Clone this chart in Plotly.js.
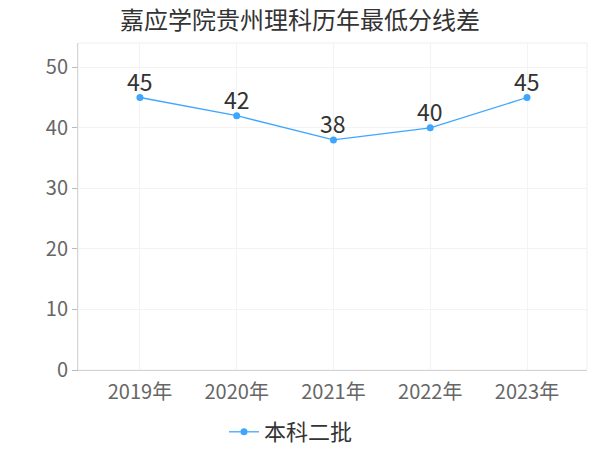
<!DOCTYPE html>
<html><head><meta charset="utf-8">
<script src="https://cdn.plot.ly/plotly-3.0.1.min.js"></script>
<style>body{margin:0;padding:0;}#chart{width:600px;height:450px;}</style>
</head><body><div id="chart"></div>
<script>
var categories = ["2019年","2020年","2021年","2022年","2023年"];
var values = [45, 42, 38, 40, 45];
var seriesName = "本科二批";
var yTicks = [0, 10, 20, 30, 40, 50];

var font = "'Noto Sans CJK SC', 'Noto Sans', sans-serif";
var trace = {
  x: categories, y: values, name: seriesName,
  type: "scatter", mode: "lines+markers",
  line: {color: "#3fa6ff", width: 1.3},
  marker: {color: "#3fa6ff", size: 7},
  cliponaxis: false
};
var labels = categories.map(function (c, i) {
  return {x: c, y: values[i], xref: "x", yref: "y", text: String(values[i]),
    showarrow: false, yanchor: "bottom", yshift: -2,
    font: {size: 23, color: "#333", family: font}};
});
var layout = {
  width: 600, height: 450,
  margin: {l: 78, r: 13, t: 43, b: 80, autoexpand: false},
  title: {text: "嘉应学院贵州理科历年最低分线差", font: {size: 24, color: "#333", family: font}, xref: "container", x: 0.5, xanchor: "center", yref: "container", y: 0.955, yanchor: "middle"},
  paper_bgcolor: "#fff", plot_bgcolor: "#fff",
  xaxis: {
    type: "category", range: [-0.64, 4.62],
    tickfont: {size: 20, color: "#666", family: font},
    ticklabelstandoff: 4,
    showgrid: true, gridcolor: "#f3f3f3", gridwidth: 1,
    showline: true, linecolor: "#bbb", linewidth: 1,
    mirror: false, ticks: "", zeroline: false
  },
  yaxis: {
    range: [0, 54], tickvals: yTicks,
    tickfont: {size: 20, color: "#666", family: font},
    showgrid: true, gridcolor: "#f3f3f3", gridwidth: 1,
    showline: true, linecolor: "#bbb", linewidth: 1,
    ticks: "outside", ticklen: 5, tickcolor: "#bbb", zeroline: false
  },
  annotations: labels,
  shapes: [{type: "rect", xref: "paper", yref: "paper", x0: 0, x1: 1, y0: 0, y1: 1, line: {color: "#eee", width: 1}}],
  showlegend: true,
  legend: {orientation: "h", xref: "container", x: 0.485, xanchor: "center", yref: "container", y: 0.04, yanchor: "middle", itemwidth: 30, font: {size: 22, color: "#333", family: font}}
};
Plotly.newPlot("chart", [trace], layout, {displayModeBar: false, staticPlot: true});
</script></body></html>
